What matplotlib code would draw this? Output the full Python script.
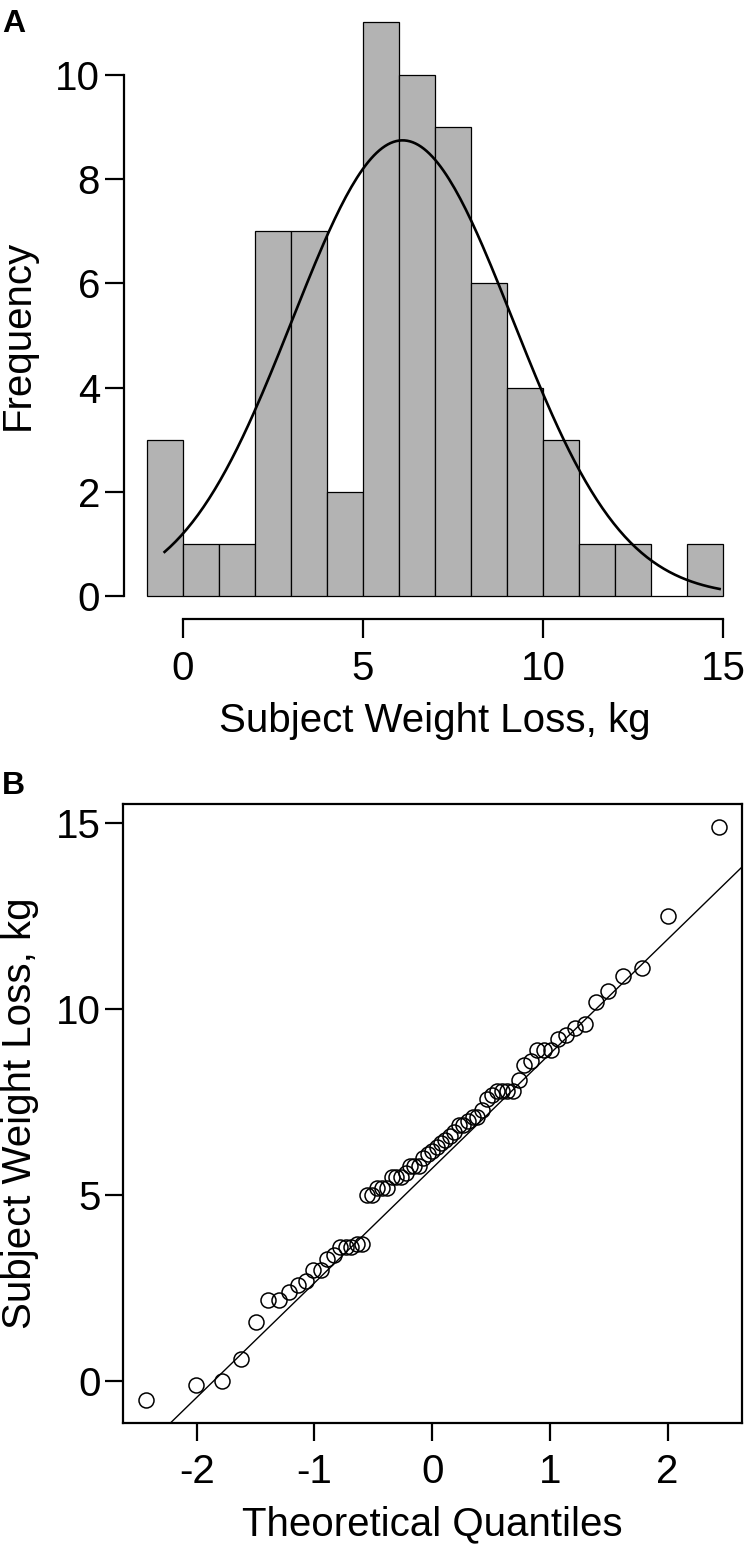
import numpy as np
import pandas as pd
import matplotlib.pyplot as plt
from statistics import NormalDist

# sorted subject weight loss (kg)
weight_loss = [
    -0.5, -0.1, 0.0, 0.6, 1.6,
    2.2, 2.2, 2.4, 2.6, 2.7, 3.0, 3.0,
    3.3, 3.4, 3.6, 3.6, 3.6, 3.7, 3.7,
    5.0, 5.0,
    5.2, 5.2, 5.2, 5.5, 5.5, 5.5, 5.6, 5.8, 5.8, 5.8, 6.0,
    6.1, 6.2, 6.3, 6.4, 6.5, 6.6, 6.7, 6.9, 6.9, 7.0,
    7.1, 7.1, 7.3, 7.6, 7.7, 7.8, 7.8, 7.8, 7.8,
    8.1, 8.5, 8.6, 8.9, 8.9, 8.9,
    9.2, 9.3, 9.5, 9.6,
    10.2, 10.5, 10.9,
    11.1, 12.5, 14.9,
]
bin_edges = list(range(-1, 16))
hist_xticks = [0, 5, 10, 15]
hist_yticks = [0, 2, 4, 6, 8, 10]
qq_xticks = [-2, -1, 0, 1, 2]
qq_yticks = [0, 5, 10, 15]

plt.rcParams["font.family"] = ["Liberation Sans", "DejaVu Sans"]
plt.rcParams["axes.unicode_minus"] = False

W, H = 747, 1550
fig = plt.figure(figsize=(W / 100, H / 100), dpi=100)

FS = 29
LW = 1.6


def px_axes(left, top, right, bottom):
    return fig.add_axes([left / W, 1 - bottom / H, (right - left) / W, (bottom - top) / H])


def r_lim(lo, hi):
    d = (hi - lo) * 0.04
    return lo - d, hi + d


data = np.array(weight_loss)
n = len(data)

# ---- A: histogram (R style right-closed bins) ----
top1, bot1, left1, right1 = -0.5, 619.2, 123.5, 746.3
ax1 = px_axes(left1, top1, right1, bot1)
cats = pd.cut(data, bins=bin_edges, right=True, include_lowest=True)
counts = pd.Series(cats).value_counts(sort=False).values
ax1.bar(bin_edges[:-1], counts, width=1, align="edge",
        color="#B3B3B3", edgecolor="black", linewidth=0.9)

mu, sd = data.mean(), data.std(ddof=1)
xs = np.linspace(data.min(), data.max(), 200)
ys = n * np.exp(-0.5 * ((xs - mu) / sd) ** 2) / (sd * np.sqrt(2 * np.pi))
ax1.plot(xs, ys, color="black", linewidth=1.9)

ax1.set_xlim(*r_lim(bin_edges[0], bin_edges[-1]))
ax1.set_ylim(*r_lim(0, counts.max()))
ax1.set_xticks(hist_xticks)
ax1.set_yticks(hist_yticks)
ax1.spines["top"].set_visible(False)
ax1.spines["right"].set_visible(False)
ax1.spines["left"].set_bounds(0, 10)
ax1.spines["bottom"].set_bounds(0, 15)
for s in ("left", "bottom"):
    ax1.spines[s].set_linewidth(LW)
ax1.tick_params(axis="x", direction="out", length=14, width=LW, labelsize=FS, pad=8.5)
ax1.tick_params(axis="y", direction="out", length=14, width=LW, labelsize=FS, pad=3)
ax1.set_xlabel("Subject Weight Loss, kg", fontsize=FS, va="baseline")
h1 = bot1 - top1
ax1.xaxis.set_label_coords(0.5, (bot1 - 732) / h1)
ax1.set_ylabel("Frequency", fontsize=FS, va="center")
ax1.yaxis.set_label_coords((18 - left1) / (right1 - left1), (bot1 - 335) / h1)

# ---- B: normal Q-Q plot ----
ax2 = px_axes(122.7, 804, 741.6, 1423)
probs = (np.arange(1, n + 1) - 0.5) / n
theo = np.array([NormalDist().inv_cdf(p) for p in probs])
ax2.plot(theo, np.sort(data), "o", markerfacecolor="none", markeredgecolor="black",
         markersize=10.8, markeredgewidth=1.1)

q1, q3 = np.percentile(data, [25, 75])
z1, z3 = NormalDist().inv_cdf(0.25), NormalDist().inv_cdf(0.75)
slope = (q3 - q1) / (z3 - z1)
ax2.axline((z1, q1), slope=slope, color="black", linewidth=1.0)

ax2.set_xlim(*r_lim(theo.min(), theo.max()))
ax2.set_ylim(*r_lim(data.min(), data.max()))
ax2.set_xticks(qq_xticks)
ax2.set_yticks(qq_yticks)
for s in ax2.spines.values():
    s.set_linewidth(LW)
ax2.tick_params(axis="x", direction="out", length=13, width=LW, labelsize=FS, pad=8.5)
ax2.tick_params(axis="y", direction="out", length=13, width=LW, labelsize=FS, pad=3)
ax2.set_xlabel("Theoretical Quantiles", fontsize=FS, va="baseline")
ax2.xaxis.set_label_coords(0.5, -112 / 619)
ax2.set_ylabel("Subject Weight Loss, kg", fontsize=FS, va="center")
ax2.yaxis.set_label_coords((20 - 122.7) / 618.9, 0.5)

fig.text(2 / W, 1 - 31.5 / H, "A", fontsize=23, fontweight="bold", va="baseline")
fig.text(2 / W, 1 - 794 / H, "B", fontsize=23, fontweight="bold", va="baseline")

fig.savefig("out.png", dpi=100)
